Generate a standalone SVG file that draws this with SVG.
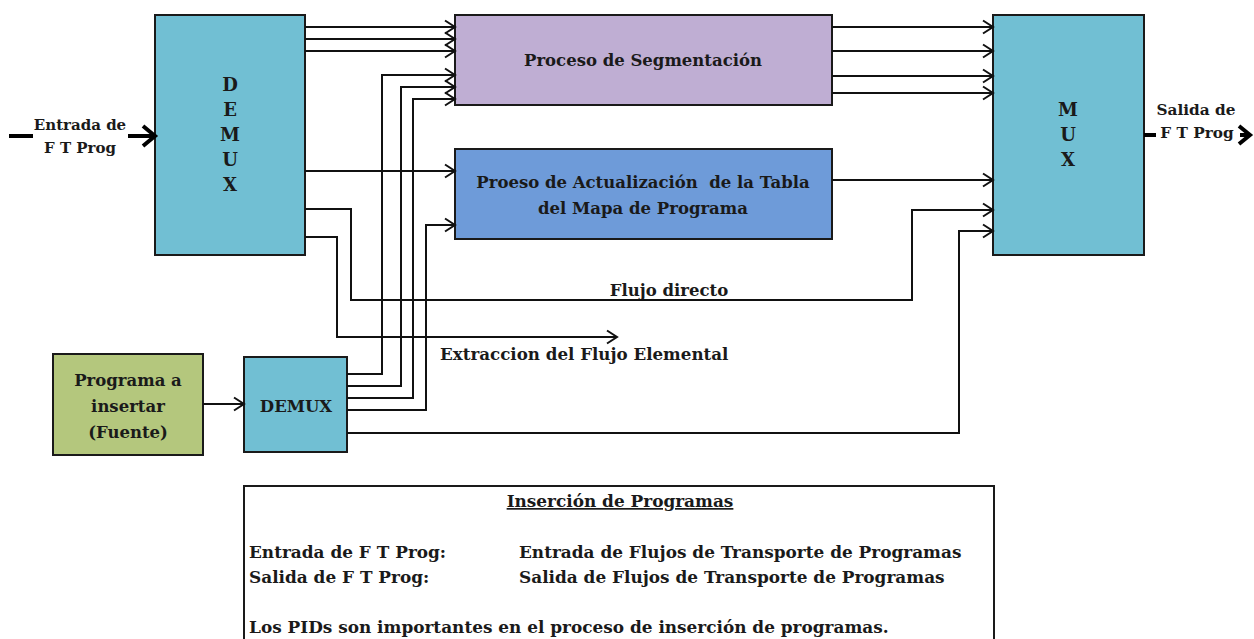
<svg xmlns="http://www.w3.org/2000/svg" width="1254" height="639" viewBox="0 0 1254 639">
<defs>
<style>
.box{stroke:#1a1a1a;stroke-width:2}
.t{font-family:"DejaVu Serif","Liberation Serif",serif;font-weight:bold;font-size:16.5px;fill:#1a1a1a}
.lg{font-size:16.9px}
.c{text-anchor:middle}
.ln{fill:none;stroke:#111;stroke-width:2}
.arr{marker-end:url(#ah)}
.thick{fill:none;stroke:#000;stroke-width:4}
</style>
<marker id="ah" markerUnits="userSpaceOnUse" markerWidth="14" markerHeight="16" refX="11" refY="7" orient="auto" overflow="visible">
<path d="M1,0.5 L11,7 L1,13.5" fill="none" stroke="#111" stroke-width="2"/>
</marker>
</defs>
<rect width="1254" height="639" fill="#fff"/>

<g id="demux-main">
<rect class="box" x="155" y="15" width="150" height="240" fill="#71bfd3"/>
<text class="t c" x="230" y="91" style="font-size:18px">D</text>
<text class="t c" x="230" y="116" style="font-size:18px">E</text>
<text class="t c" x="230" y="141" style="font-size:18px">M</text>
<text class="t c" x="230" y="166" style="font-size:18px">U</text>
<text class="t c" x="230" y="191" style="font-size:18px">X</text>
</g>

<g id="segmentacion">
<rect class="box" x="455" y="15" width="377" height="90" fill="#bfaed3"/>
<text class="t c" x="643" y="66">Proceso de Segmentación</text>
</g>

<g id="actualizacion">
<rect class="box" x="455" y="149" width="377" height="90" fill="#6e9bd9"/>
<text class="t c" x="643" y="188" xml:space="preserve">Proeso de Actualización  de la Tabla</text>
<text class="t c" x="643" y="214">del Mapa de Programa</text>
</g>

<g id="mux">
<rect class="box" x="993" y="15" width="151" height="240" fill="#71bfd3"/>
<text class="t c" x="1068" y="116" style="font-size:18px">M</text>
<text class="t c" x="1068" y="141" style="font-size:18px">U</text>
<text class="t c" x="1068" y="166" style="font-size:18px">X</text>
</g>

<g id="programa">
<rect class="box" x="53" y="354" width="150" height="101" fill="#b4c77d"/>
<text class="t c" x="128" y="386">Programa a</text>
<text class="t c" x="128" y="412">insertar</text>
<text class="t c" x="128" y="438">(Fuente)</text>
</g>

<g id="demux-small">
<rect class="box" x="244" y="357" width="103" height="95" fill="#71bfd3"/>
<text class="t c" x="296" y="412">DEMUX</text>
</g>

<g id="labels">
<text class="t c" x="80" y="130" style="font-size:15px">Entrada de</text>
<text class="t c" x="80" y="153" style="font-size:15px">F T Prog</text>
<text class="t c" x="1196" y="115" style="font-size:15.3px">Salida de</text>
<text class="t c" x="1197" y="138" style="font-size:15.3px">F T Prog</text>
<text class="t c" x="669" y="296">Flujo directo</text>
<text class="t" x="440" y="360" style="font-size:16.7px">Extraccion del Flujo Elemental</text>
</g>

<g id="connectors">
<line class="thick" x1="9" y1="136" x2="33" y2="136"/>
<line class="thick" x1="128" y1="136" x2="154" y2="136"/>
<path class="thick" d="M143,126 L155,136 L143,146"/>
<line class="thick" x1="1144" y1="135" x2="1156" y2="135"/>
<path class="thick" d="M1239,126 L1250,135 L1239,144"/>
<line class="thick" x1="1240" y1="135" x2="1249" y2="135"/>

<line class="ln arr" x1="305" y1="27" x2="455" y2="27"/>
<line class="ln arr" x1="305" y1="39" x2="455" y2="39"/>
<line class="ln arr" x1="305" y1="51" x2="455" y2="51"/>
<line class="ln arr" x1="305" y1="171" x2="455" y2="171"/>
<polyline class="ln arr" points="305,209 351,209 351,300 912,300 912,210 993,210"/>
<polyline class="ln arr" points="305,237 337,237 337,337 617,337"/>

<polyline class="ln arr" points="347,374 382,374 382,75 455,75"/>
<polyline class="ln arr" points="347,386 401,386 401,87 455,87"/>
<polyline class="ln arr" points="347,398 413,398 413,99 455,99"/>
<polyline class="ln arr" points="347,410 426,410 426,225 455,225"/>
<polyline class="ln arr" points="347,433 959,433 959,231 993,231"/>
<line class="ln arr" x1="203" y1="404" x2="244" y2="404"/>

<line class="ln arr" x1="832" y1="27" x2="993" y2="27"/>
<line class="ln arr" x1="832" y1="51" x2="993" y2="51"/>
<line class="ln arr" x1="832" y1="76" x2="993" y2="76"/>
<line class="ln arr" x1="832" y1="93" x2="993" y2="93"/>
<line class="ln arr" x1="832" y1="180" x2="993" y2="180"/>
</g>

<g id="leyenda">
<rect x="244" y="486" width="750" height="180" fill="#fff" stroke="#1a1a1a" stroke-width="2"/>
<text class="t c lg" x="620" y="507" text-decoration="underline">Inserción de Programas</text>
<text class="t lg" x="249" y="558">Entrada de F T Prog:</text>
<text class="t lg" x="249" y="583">Salida de F T Prog:</text>
<text class="t lg" x="519" y="558">Entrada de Flujos de Transporte de Programas</text>
<text class="t lg" x="519" y="583">Salida de Flujos de Transporte de Programas</text>
<text class="t lg" x="249" y="633">Los PIDs son importantes en el proceso de inserción de programas.</text>
</g>
</svg>
